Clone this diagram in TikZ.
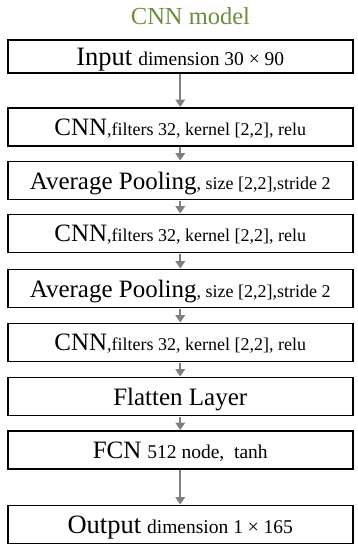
\documentclass[tikz,border=0pt]{standalone}
\usepackage{fontspec}
\setmainfont{Liberation Serif}
\usetikzlibrary{arrows.meta}
\definecolor{titlegreen}{RGB}{110,140,60}
\definecolor{arrowgray}{RGB}{128,128,128}
\newcommand{\bigt}[1]{{\fontsize{25}{28}\selectfont #1}}
\newcommand{\smallt}[1]{{\fontsize{18}{21}\selectfont #1}}
\newcommand{\bigu}[1]{{\fontsize{26.5}{30}\selectfont #1}}
\newcommand{\smallu}[1]{{\fontsize{19.5}{22}\selectfont #1}}
\begin{document}
\begin{tikzpicture}[x=1pt,y=-1pt,
  layer/.style={draw=black, line width=1.9pt, minimum width=345pt, minimum height=38pt, inner sep=0pt, text depth=0pt},
  conn/.style={draw=arrowgray, line width=2.4pt, -{Triangle[width=9.5pt,length=7.5pt]}, shorten <=0.5pt}]
\useasboundingbox (0,0) rectangle (358,550);
\node[text=titlegreen, font=\fontsize{24.5}{28}\selectfont] (title) at (190.5,16) {CNN model};
\node[layer, minimum height=33pt] (b1) at (180.25,56.5) {\bigu{Input\hspace{6pt}}\smallu{dimension 30 × 90}};
\node[layer] (b2) at (180.25,127) {\bigt{CNN}\smallt{,filters 32, kernel [2,2], relu}};
\node[layer] (b3) at (180.25,180.5) {\bigt{Average Pooling}\smallt{, size [2,2],stride 2}};
\node[layer] (b4) at (180.25,233.5) {\bigt{CNN}\smallt{,filters 32, kernel [2,2], relu}};
\node[layer] (b5) at (180.25,288.5) {\bigt{Average Pooling}\smallt{, size [2,2],stride 2}};
\node[layer] (b6) at (180.25,342.5) {\bigt{CNN}\smallt{,filters 32, kernel [2,2], relu}};
\node[layer] (b7) at (180.25,396.5) {\bigt{Flatten Layer}};
\node[layer] (b8) at (180.25,450) {\bigt{FCN\hspace{6pt}}\smallu{512 node,\ \ tanh}};
\node[layer] (b9) at (180.25,524.5) {\bigu{Output\hspace{6pt}}\smallu{dimension 1 × 165}};
\foreach \a/\b in {b1/b2,b2/b3,b3/b4,b4/b5,b5/b6,b6/b7,b7/b8,b8/b9}
  \draw[conn] (\a.south) -- (\b.north);
\end{tikzpicture}
\end{document}
